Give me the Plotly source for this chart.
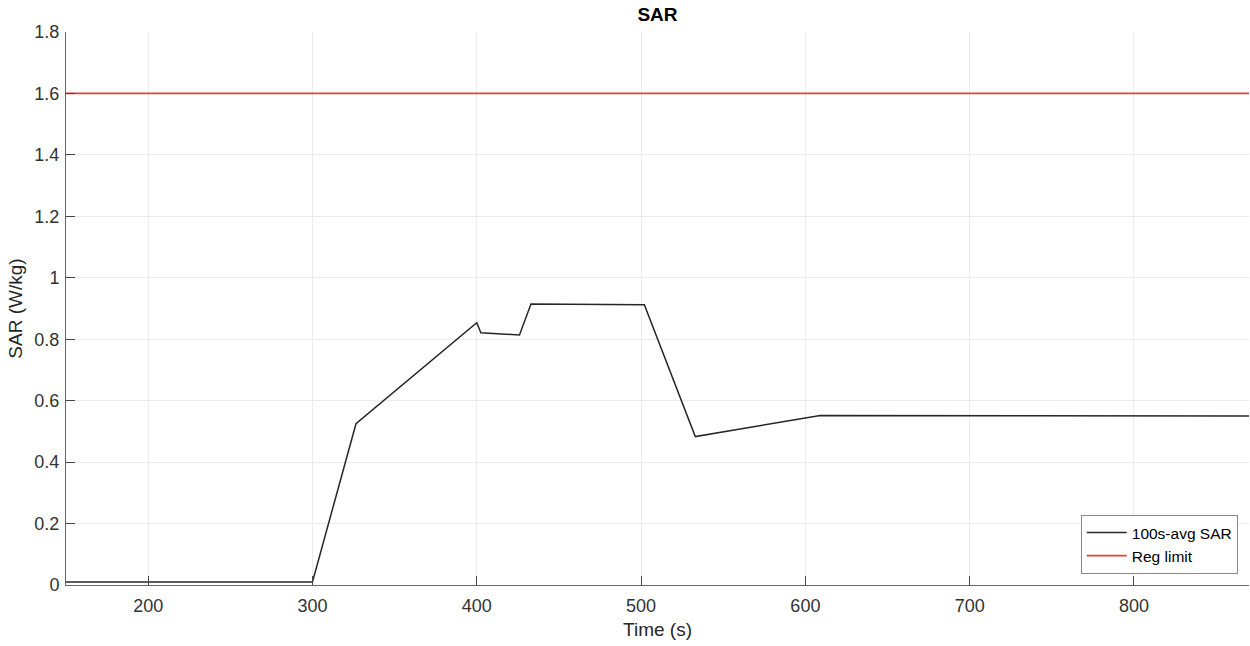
import plotly.graph_objects as go

time_s = [150, 300, 326.5, 400, 402.5, 426, 433, 502, 533, 609, 870]
sar_avg = [0.01, 0.01, 0.525, 0.854, 0.821, 0.814, 0.915, 0.912, 0.483, 0.552, 0.55]
limit_time = [150, 870]
limit_val = [1.6, 1.6]
x_ticks = [200, 300, 400, 500, 600, 700, 800]
y_ticks = [0, 0.2, 0.4, 0.6, 0.8, 1, 1.2, 1.4, 1.6, 1.8]
y_labels = ["0", "0.2", "0.4", "0.6", "0.8", "1", "1.2", "1.4", "1.6", "1.8"]

fig = go.Figure()
fig.add_trace(go.Scatter(x=time_s, y=sar_avg, mode="lines", name="100s-avg SAR",
                         line=dict(color="#262626", width=1.5)))
fig.add_trace(go.Scatter(x=limit_time, y=limit_val, mode="lines", name="Reg limit",
                         line=dict(color="#e0403c", width=1.8)))

font_family = "Liberation Sans, Arial, sans-serif"
fig.update_layout(
    width=1250, height=646,
    margin=dict(l=66, r=1, t=32, b=61),
    paper_bgcolor="white", plot_bgcolor="white",
    font=dict(family=font_family, color="#262626", size=18),
    title=dict(text="<b>SAR</b>", x=(66 + 1249) / 2 / 1250, xanchor="center",
               y=1 - 14 / 646, yanchor="middle", font=dict(size=19, color="#000")),
    showlegend=True,
    legend=dict(x=0.9905, xanchor="right", y=0.02, yanchor="bottom",
                bgcolor="white", bordercolor="#888", borderwidth=1,
                font=dict(size=15.5, color="#000"), tracegroupgap=0,
                itemwidth=40),
    xaxis=dict(range=[150, 870], tickvals=x_ticks, ticks="inside", ticklen=9,
               tickcolor="#444", showline=True, linecolor="#666", linewidth=1,
               showgrid=True, gridcolor="#ebebeb", gridwidth=1, zeroline=False,
               ticklabelstandoff=4,
               title=dict(text="Time (s)", font=dict(size=19), standoff=8),
               tickfont=dict(size=18, color="#333")),
    yaxis=dict(range=[0, 1.8], tickvals=y_ticks, ticktext=y_labels, ticks="inside",
               ticklen=9, tickcolor="#444", showline=True, linecolor="#666",
               linewidth=1, showgrid=True, gridcolor="#ebebeb", gridwidth=1,
               zeroline=False, ticklabelstandoff=2,
               title=dict(text="SAR (W/kg)", font=dict(size=19), standoff=6),
               tickfont=dict(size=18, color="#333")),
)

fig.write_html("out.html", config={"displayModeBar": False},
               post_script="document.body.style.margin='0';document.body.style.overflow='hidden';")
